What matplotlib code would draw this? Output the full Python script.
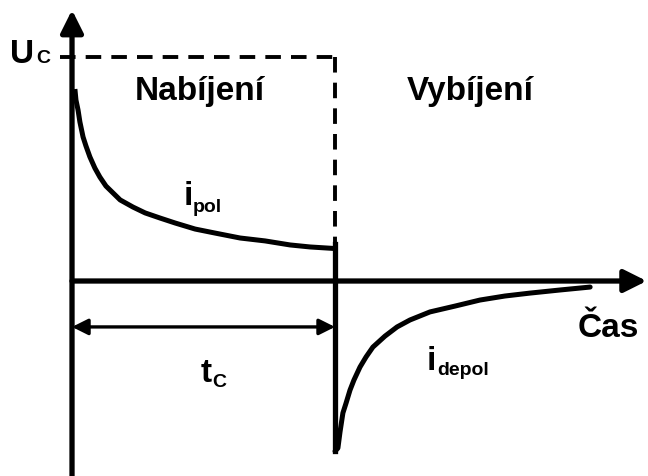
import matplotlib.pyplot as plt

plt.rcParams['font.family'] = ['Liberation Sans', 'DejaVu Sans']

# schematic values, time in units of t_C, current/voltage in units of U_C
t_c = 1.0
u_c = 1.0

pol_t = [0.011, 0.015, 0.023, 0.030, 0.042, 0.053, 0.068, 0.087, 0.106, 0.129, 0.156, 0.183,
         0.232, 0.278, 0.335, 0.392, 0.468, 0.544, 0.639, 0.734, 0.829, 0.905, 1.0]
pol_i = [0.857, 0.808, 0.763, 0.710, 0.643, 0.603, 0.554, 0.504, 0.464, 0.424, 0.393, 0.362,
         0.330, 0.304, 0.281, 0.259, 0.232, 0.214, 0.192, 0.179, 0.161, 0.152, 0.145]

depol_t = [1.0, 1.011, 1.019, 1.030, 1.042, 1.057, 1.072, 1.095, 1.118, 1.144, 1.190, 1.236,
           1.285, 1.361, 1.456, 1.551, 1.646, 1.741, 1.856, 1.970]
depol_i = [-0.76, -0.746, -0.674, -0.589, -0.545, -0.487, -0.442, -0.384, -0.339, -0.295, -0.246,
           -0.205, -0.174, -0.138, -0.112, -0.085, -0.067, -0.054, -0.040, -0.027]

phase_labels = ['Nabíjení', 'Vybíjení']
time_label = 'Čas'

fig = plt.figure(figsize=(6.48, 4.76), dpi=100)
ax = fig.add_axes([0, 0, 1, 1])
ax.set_xlim(-0.2738, 2.190)
ax.set_ylim(-0.8705, 1.2545)
ax.axis('off')

k = 'black'

# axes with arrows
ax.annotate('', xy=(0, 1.21), xytext=(0, -0.8705),
            arrowprops=dict(arrowstyle='-|>', lw=3.8, color=k, mutation_scale=34,
                            shrinkA=0, shrinkB=0))
ax.annotate('', xy=(2.185, 0), xytext=(0, 0),
            arrowprops=dict(arrowstyle='-|>', lw=3.8, color=k, mutation_scale=34,
                            shrinkA=0, shrinkB=0))

# U_C level and end of charging
ax.plot([-0.046, t_c], [u_c, u_c], color=k, lw=2.8, ls=(0, (4, 2.6)))
ax.plot([t_c, t_c], [u_c, pol_i[-1]], color=k, lw=2.8, ls=(0, (4, 2.6)))

# currents
ax.plot(pol_t, pol_i, color=k, lw=3.6, solid_capstyle='butt', solid_joinstyle='round')
ax.plot([t_c, t_c], [pol_i[-1] + 0.02, depol_i[0]], color=k, lw=3.8)
ax.plot(depol_t, depol_i, color=k, lw=3.6, solid_capstyle='round', solid_joinstyle='round')

# charging time arrow
ax.annotate('', xy=(t_c, -0.205), xytext=(0, -0.205),
            arrowprops=dict(arrowstyle='<|-|>', lw=2.4, color=k, mutation_scale=24,
                            shrinkA=0, shrinkB=0))

fs = 24
sub = 14
ax.text(0.487, 0.808, phase_labels[0], ha='center', va='baseline', fontsize=fs, fontweight='bold')
ax.text(1.513, 0.808, phase_labels[1], ha='center', va='baseline', fontsize=fs, fontweight='bold')
ax.text(1.924, -0.25, time_label, ha='left', va='baseline', fontsize=fs, fontweight='bold')

ax.text(-0.236, 0.973, 'U', ha='left', va='baseline', fontsize=fs, fontweight='bold')
ax.text(-0.137, 0.973, 'C', ha='left', va='baseline', fontsize=sub, fontweight='bold')

ax.text(0.426, 0.339, 'i', ha='left', va='baseline', fontsize=fs, fontweight='bold')
ax.text(0.460, 0.308, 'pol', ha='left', va='baseline', fontsize=sub, fontweight='bold')

ax.text(0.490, -0.451, 't', ha='left', va='baseline', fontsize=fs, fontweight='bold')
ax.text(0.534, -0.473, 'C', ha='left', va='baseline', fontsize=sub, fontweight='bold')

ax.text(1.350, -0.397, 'i', ha='left', va='baseline', fontsize=fs, fontweight='bold')
ax.text(1.388, -0.420, 'depol', ha='left', va='baseline', fontsize=sub, fontweight='bold')

fig.savefig('out.png', dpi=100)
